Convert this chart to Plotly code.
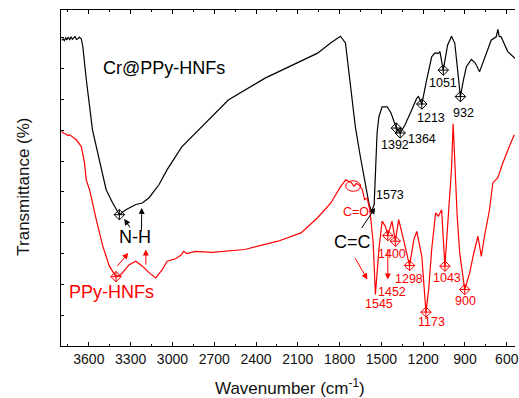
import plotly.graph_objects as go

# ---- data (wavenumber cm^-1, transmittance in arbitrary %-units) ----
cr_wn = [3794, 3784, 3776, 3766, 3758, 3750, 3737, 3728, 3718, 3709, 3700, 3690, 3680, 3668, 3654,
         3643, 3618, 3574, 3512, 3476, 3429, 3381, 3334, 3263, 3216, 3168, 3097, 3038, 2933, 2862,
         2741, 2599, 2335, 2100, 1958, 1865, 1794, 1758, 1723, 1687, 1651, 1616, 1588, 1571, 1552,
         1531, 1518, 1495, 1459, 1431, 1393, 1365, 1331, 1293, 1246, 1234, 1210, 1175, 1139, 1116,
         1091, 1080, 1056, 1025, 997, 973, 954, 933, 911, 890, 854, 826, 795, 748, 712, 676, 664,
         655, 641, 593, 541]
cr_t = [99.2, 99.6, 99.1, 99.9, 99.3, 100.2, 99.4, 100.3, 99.5, 99.9, 100.4, 99.5, 99.6, 100.2, 99.6,
        97.0, 86.3, 70.1, 57.2, 50.7, 46.4, 42.6, 44.2, 45.9, 46.4, 48.1, 52.3, 57.2, 64.6, 67.9,
        73.4, 79.8, 86.9, 91.8, 95.0, 98.3, 100.5, 98.3, 85.3, 71.1, 61.4, 53.0, 45.9, 43.6, 45.9,
        69.2, 74.3, 77.6, 77.6, 75.6, 70.7, 69.1, 71.7, 75.5, 80.4, 80.9, 78.5, 86.3, 93.8, 95.1,
        94.9, 95.5, 89.5, 97.6, 100.5, 98.2, 89.5, 80.9, 86.3, 90.6, 93.0, 91.8, 89.0, 94.4, 99.2,
        100.3, 102.7, 100.5, 100.3, 95.5, 93.3]

ppy_wn = [3796, 3780, 3766, 3750, 3737, 3715, 3690, 3654, 3631, 3619, 3595, 3547, 3500, 3453, 3405,
          3369, 3310, 3263, 3216, 3168, 3120, 3073, 3038, 2978, 2940, 2919, 2897, 2835, 2717, 2480,
          2242, 2077, 1958, 1863, 1792, 1756, 1732, 1716, 1696, 1680, 1661, 1637, 1621, 1602, 1583,
          1559, 1543, 1518, 1495, 1471, 1454, 1424, 1400, 1376, 1341, 1298, 1267, 1246, 1210, 1180,
          1161, 1139, 1111, 1091, 1068, 1044, 1020, 997, 985, 976, 966, 961, 956, 938, 902, 866,
          842, 807, 783, 760, 724, 700, 676, 664, 653, 629, 582, 546]
ppy_t = [69.6, 69.0, 68.8, 68.3, 68.5, 67.8, 66.9, 64.7, 59.4, 53.9, 50.7, 41.0, 32.4, 25.9, 22.5,
         23.2, 26.4, 27.5, 25.9, 23.8, 22.1, 24.8, 27.5, 28.3, 29.4, 30.7, 30.0, 30.7, 30.4, 31.3,
         34.0, 36.7, 41.6, 46.4, 51.8, 53.9, 53.4, 53.0, 51.8, 52.7, 52.3, 50.7, 47.5, 48.0, 44.2,
         33.6, 16.7, 31.3, 40.5, 38.8, 35.8, 40.5, 34.0, 41.0, 34.5, 26.1, 34.5, 37.2, 29.1, 11.0,
         18.3, 31.3, 43.2, 42.1, 44.2, 25.9, 42.1, 57.2, 72.1, 63.7, 52.9, 46.9, 42.1, 30.3, 18.3, 23.8,
         29.1, 35.6, 29.1, 35.6, 44.2, 52.9, 53.9, 54.6, 56.1, 59.3, 64.7, 68.5]

cr_peak_wn = [3381, 1393, 1365, 1210, 1056, 933]
cr_peak_t = [42.6, 70.7, 69.1, 78.5, 89.5, 80.9]
ppy_peak_wn = [3405, 1454, 1400, 1298, 1180, 1044, 902]
ppy_peak_t = [22.5, 35.8, 34.0, 26.1, 11.0, 25.9, 18.3]

x_tickvals = [3600, 3300, 3000, 2700, 2400, 2100, 1800, 1500, 1200, 900, 600]
x_minorvals = [3750, 3450, 3150, 2850, 2550, 2250, 1950, 1650, 1350, 1050, 750]

FONT = "Liberation Sans, Arial, sans-serif"
RED = "#ff0000"

fig = go.Figure()
fig.add_trace(go.Scatter(x=cr_wn, y=cr_t, mode="lines", line=dict(color="black", width=1.2),
                         showlegend=False, hoverinfo="skip"))
fig.add_trace(go.Scatter(x=ppy_wn, y=ppy_t, mode="lines", line=dict(color=RED, width=1.2),
                         showlegend=False, hoverinfo="skip"))
fig.add_trace(go.Scatter(x=cr_peak_wn, y=cr_peak_t, mode="markers",
                         marker=dict(symbol="diamond-cross-open", size=8, color="black",
                                     line=dict(width=1, color="black")),
                         showlegend=False))
fig.add_trace(go.Scatter(x=ppy_peak_wn, y=ppy_peak_t, mode="markers",
                         marker=dict(symbol="diamond-cross-open", size=8, color=RED,
                                     line=dict(width=1, color=RED)),
                         showlegend=False))

def txt(x, y, s, color="black", size=12.5):
    fig.add_annotation(x=x, y=y, text=s, showarrow=False, xanchor="center", yanchor="middle",
                       font=dict(family=FONT, size=size, color=color))

def arr(x0, y0, x1, y1, color="black"):
    fig.add_annotation(x=x1, y=y1, ax=x0, ay=y0, axref="x", ayref="y", text="",
                       showarrow=True, arrowhead=2, arrowsize=1.2, arrowwidth=1, arrowcolor=color)

txt(3060, 90.2, "Cr@PPy-HNFs", size=18)
txt(3269, 35.2, "N-H", size=18)
txt(3435, 17.5, "PPy-HNFs", color=RED, size=18)
txt(1708, 33.9, "C=C", size=18)
txt(1685, 43.6, "C=O", color=RED)
txt(1436, 48.9, "1573")
txt(1400, 65.3, "1392")
txt(1210, 67.1, "1364")
txt(1144, 73.9, "1213")
txt(1056, 85.2, "1051")
txt(913, 75.7, "932")
txt(1424, 30.0, "1400", color=RED)
txt(1424, 17.6, "1452", color=RED)
txt(1305, 21.6, "1298", color=RED)
txt(1139, 7.8, "1173", color=RED)
txt(1032, 22.2, "1043", color=RED)
txt(895, 14.6, "900", color=RED)
txt(1518, 13.5, "1545", color=RED)

arr(3298, 38.0, 3346, 41.2)
arr(3223, 36.7, 3220, 44.8)
arr(3405, 25.4, 3317, 30.2, RED)
arr(3191, 25.9, 3191, 31.3, RED)
arr(1649, 37.8, 1545, 44.8)
arr(1696, 29.1, 1601, 21.6, RED)
arr(1454, 31.9, 1454, 21.6, RED)

fig.add_shape(type="circle", xref="x", yref="y", x0=1756, x1=1649, y0=50.2, y1=53.6,
              line=dict(color=RED, width=1))

# axis titles
fig.add_annotation(xref="paper", yref="paper", x=0.505, y=-0.122, text="Wavenumber (cm<sup>-1</sup>)",
                   showarrow=False, xanchor="center", yanchor="middle",
                   font=dict(family=FONT, size=17, color="#111"))
fig.add_annotation(xref="paper", yref="paper", x=-0.083, y=0.475, text="Transmittance (%)",
                   textangle=-90, showarrow=False, xanchor="center", yanchor="middle",
                   font=dict(family=FONT, size=17, color="#111"))

fig.update_xaxes(range=[3800, 541], tickvals=x_tickvals, ticks="inside", ticklen=4,
                 tickwidth=1, tickcolor="black", showline=True, linecolor="black", linewidth=1.2,
                 mirror="ticks", showgrid=False, zeroline=False, ticklabeloverflow="allow",
                 tickfont=dict(family=FONT, size=14, color="#111"),
                 minor=dict(tickvals=x_minorvals, ticks="inside", ticklen=2, tickcolor="black"))
fig.update_yaxes(range=[0, 109], dtick=10, tick0=0, ticks="inside", ticklen=3, tickcolor="black",
                 showticklabels=False, showline=True, linecolor="black", linewidth=1.2,
                 mirror=False, showgrid=False, zeroline=False)

fig.update_layout(width=519, height=398, margin=dict(l=61, r=0, t=10, b=52),
                  paper_bgcolor="white", plot_bgcolor="white", showlegend=False,
                  font=dict(family=FONT))

fig.write_html("out.html")
